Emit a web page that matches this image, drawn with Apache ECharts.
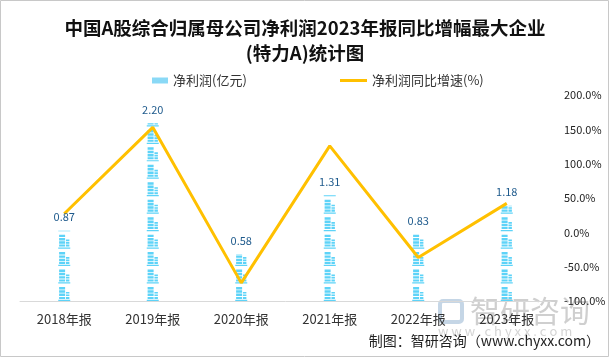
<!DOCTYPE html>
<html><head><meta charset="utf-8">
<script src="https://cdn.jsdelivr.net/npm/echarts@6/dist/echarts.min.js"></script>
<style>html,body{margin:0;padding:0;background:#fff}#c{width:610px;height:358px}</style>
</head><body><div id="c"></div>
<script>
const categories = ['2018年报','2019年报','2020年报','2021年报','2022年报','2023年报'];
const netProfit = [0.87, 2.20, 0.58, 1.31, 0.83, 1.18];
const growthRate = [27, 152.9, -73.6, 125.9, -36.6, 42.2];
const rightTicks = { min: -100, max: 200, interval: 50 };
const titleLines = ['中国A股综合归属母公司净利润2023年报同比增幅最大企业', '(特力A)统计图'];
const seriesNames = ['净利润(亿元)', '净利润同比增速(%)'];

const building = 'path://M1,0h7v3h-7z M1,4h7v3h-7z M1,8h7v3h-7z M1,12h7v2.5h-7z M9,6h4v2h-4z M9,9h4v2h-4z M9,12h4v2.5h-4z M0,15.5h14v1.5h-14z';
const FONT = '"Noto Sans CJK SC", sans-serif';

const chart = echarts.init(document.getElementById('c'), null, {renderer: 'canvas'});
chart.setOption({
  backgroundColor: '#fff',
  animation: false,
  textStyle: { fontFamily: FONT },
  title: {
    text: titleLines.join('\n'),
    left: 'center', top: 10,
    textStyle: { fontFamily: FONT, fontSize: 18.5, fontWeight: 'bold', color: '#111', lineHeight: 25 }
  },
  legend: [
    { data: [{ name: seriesNames[0], icon: 'rect', itemStyle: { color: '#8ad9f6' } }], left: 147, top: 69, itemWidth: 16, itemHeight: 6,
      textStyle: { fontSize: 13, color: '#333', fontFamily: FONT } },
    { data: [{ name: seriesNames[1], icon: 'rect' }], left: 335, top: 69, itemWidth: 27, itemHeight: 3,
      textStyle: { fontSize: 13, color: '#333', fontFamily: FONT } }
  ],
  grid: { left: 20, right: 59, top: 95, bottom: 57 },
  xAxis: {
    type: 'category', data: categories,
    axisTick: { show: false },
    axisLine: { lineStyle: { color: '#d9d9d9' } },
    axisLabel: { color: '#333', fontSize: 13, margin: 12, fontFamily: FONT }
  },
  yAxis: [
    { type: 'value', min: 0, max: 2.55, show: false, splitLine: { show: false } },
    { type: 'value', position: 'right', min: rightTicks.min, max: rightTicks.max, interval: rightTicks.interval,
      splitLine: { show: false }, axisLine: { show: false }, axisTick: { show: false },
      axisLabel: { color: '#222', fontSize: 11, margin: 13, formatter: v => v.toFixed(1) + '%' } }
  ],
  series: [
    { name: seriesNames[0], type: 'pictorialBar', data: netProfit, yAxisIndex: 0,
      symbol: building, symbolSize: [12, 14], symbolRepeat: true, symbolMargin: 2.4, symbolClip: true,
      symbolPosition: 'start',
      itemStyle: { color: '#5dd3f8' },
      z: 2 },
    { name: 'labels', type: 'bar', data: netProfit, yAxisIndex: 0, barWidth: 12, barGap: '-100%',
      itemStyle: { color: 'rgba(0,0,0,0)' }, silent: true, legendHoverLink: false,
      label: { show: true, position: 'top', distance: 8, color: '#1e5a8c', fontSize: 11, formatter: p => p.value.toFixed(2) },
      z: 4 },
    { name: seriesNames[1], type: 'line', data: growthRate, yAxisIndex: 1,
      showSymbol: false, symbol: 'none',
      lineStyle: { color: '#FFC000', width: 3 }, itemStyle: { color: '#FFC000' }, z: 3 }
  ],
  graphic: [
    { type: 'rect', shape: { x: 0.5, y: 0.5, width: 608, height: 356 }, style: { fill: null, stroke: '#c8c8c8', lineWidth: 1 }, silent: true, z: 100 },
    { type: 'rect', shape: { x: 440, y: 301, width: 22, height: 21, r: 3 }, style: { fill: null, stroke: 'rgba(150,180,210,0.55)', lineWidth: 4 }, z: 0 },
    { type: 'text', left: 470, top: 296, style: { text: '智研咨询', fill: 'rgba(160,160,160,0.5)', font: '30px ' + FONT }, z: 0 },
    { type: 'text', left: 438, top: 325, style: { text: 'w w w . c h y x x . c o m', fill: 'rgba(170,170,170,0.5)', font: '13px ' + FONT }, z: 0 },
    { type: 'text', right: 10, top: 334, style: { text: '制图：智研咨询（www.chyxx.com）', fill: '#222', font: '14px ' + FONT }, z: 10 }
  ]
});
</script></body></html>
